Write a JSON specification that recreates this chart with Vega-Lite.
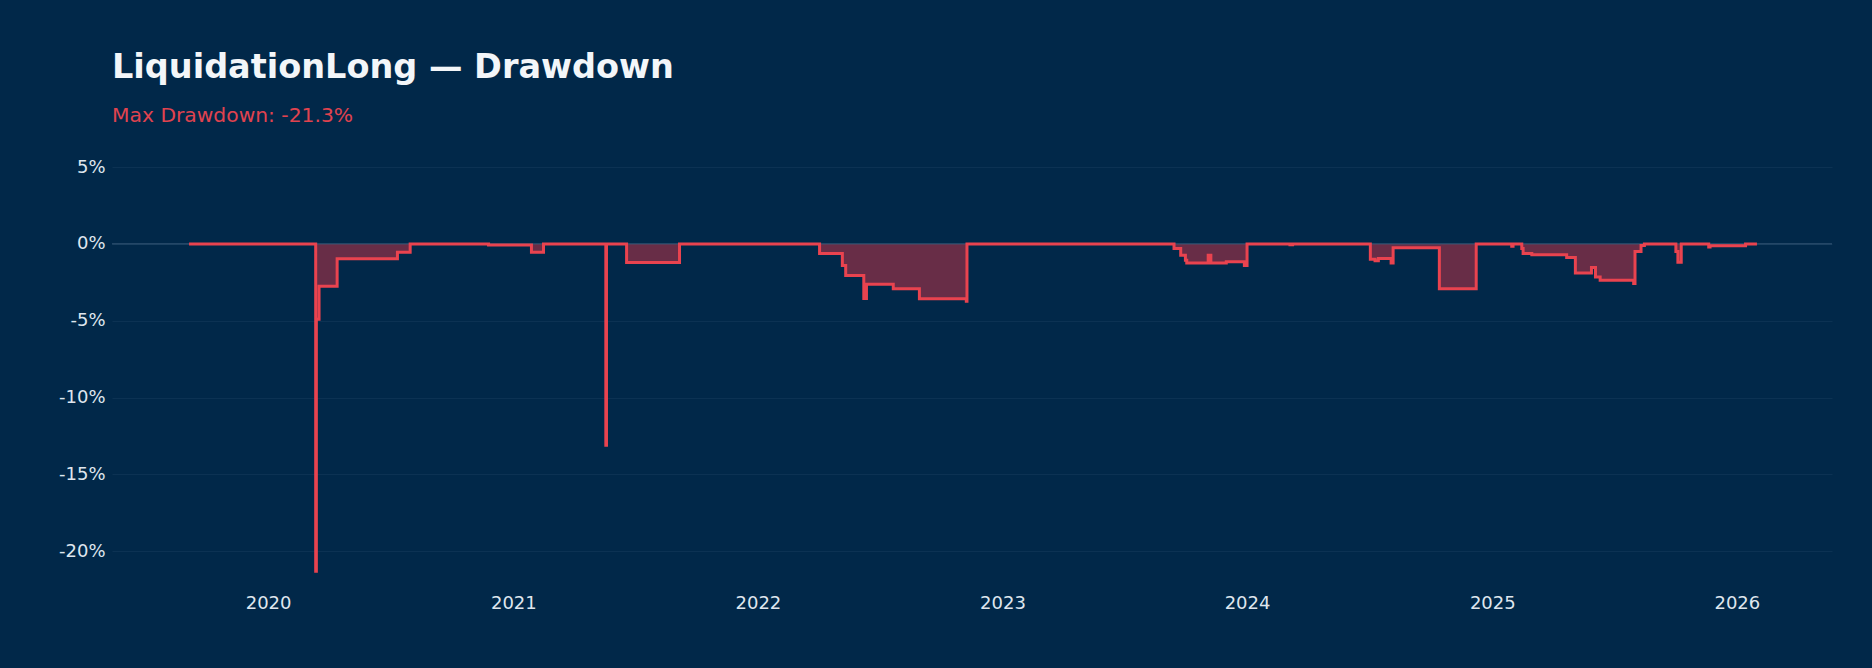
{
  "$schema": "https://vega.github.io/schema/vega-lite/v6.json",
  "width": 1720,
  "height": 441,
  "autosize": {"type": "none"},
  "padding": {"left": 112, "top": 144, "right": 40, "bottom": 83},
  "background": "#012849",
  "title": {
    "text": "LiquidationLong — Drawdown",
    "subtitle": "Max Drawdown: -21.3%",
    "anchor": "start",
    "frame": "group",
    "font": "DejaVu Sans",
    "fontSize": 33.5,
    "fontWeight": "bold",
    "color": "#f3f6f9",
    "subtitleFont": "DejaVu Sans",
    "subtitleFontSize": 20.3,
    "subtitleColor": "#e0434f",
    "subtitlePadding": 20,
    "offset": 17
  },
  "data": {
    "values": [
      {"date": "2019-09-05", "drawdown": 0},
      {"date": "2020-03-12", "drawdown": -21.3},
      {"date": "2020-03-13", "drawdown": -4.9},
      {"date": "2020-03-17", "drawdown": -2.75},
      {"date": "2020-04-13", "drawdown": -0.96},
      {"date": "2020-07-12", "drawdown": -0.55},
      {"date": "2020-07-31", "drawdown": 0},
      {"date": "2020-11-25", "drawdown": -0.08},
      {"date": "2021-01-28", "drawdown": -0.55},
      {"date": "2021-02-15", "drawdown": 0},
      {"date": "2021-05-19", "drawdown": -13.1},
      {"date": "2021-05-20", "drawdown": 0},
      {"date": "2021-06-19", "drawdown": -1.22},
      {"date": "2021-09-06", "drawdown": 0},
      {"date": "2022-04-03", "drawdown": -0.63},
      {"date": "2022-05-07", "drawdown": -1.4},
      {"date": "2022-05-12", "drawdown": -2.05},
      {"date": "2022-06-08", "drawdown": -3.55},
      {"date": "2022-06-12", "drawdown": -2.63},
      {"date": "2022-07-22", "drawdown": -2.92},
      {"date": "2022-08-30", "drawdown": -3.57},
      {"date": "2022-11-08", "drawdown": -3.73},
      {"date": "2022-11-09", "drawdown": 0},
      {"date": "2023-09-14", "drawdown": -0.3},
      {"date": "2023-09-24", "drawdown": -0.74},
      {"date": "2023-10-01", "drawdown": -1.07},
      {"date": "2023-10-03", "drawdown": -1.24},
      {"date": "2023-11-04", "drawdown": -0.74},
      {"date": "2023-11-08", "drawdown": -1.24},
      {"date": "2023-12-01", "drawdown": -1.17},
      {"date": "2023-12-28", "drawdown": -1.4},
      {"date": "2024-01-01", "drawdown": 0},
      {"date": "2024-03-05", "drawdown": -0.06},
      {"date": "2024-03-09", "drawdown": 0},
      {"date": "2024-07-03", "drawdown": -1.0},
      {"date": "2024-07-10", "drawdown": -1.1},
      {"date": "2024-07-15", "drawdown": -0.95},
      {"date": "2024-08-03", "drawdown": -1.25},
      {"date": "2024-08-06", "drawdown": -0.25},
      {"date": "2024-10-14", "drawdown": -2.92},
      {"date": "2024-12-08", "drawdown": 0},
      {"date": "2025-01-30", "drawdown": -0.15},
      {"date": "2025-02-01", "drawdown": 0},
      {"date": "2025-02-14", "drawdown": -0.3},
      {"date": "2025-02-16", "drawdown": -0.63},
      {"date": "2025-03-01", "drawdown": -0.7},
      {"date": "2025-04-22", "drawdown": -0.89},
      {"date": "2025-05-05", "drawdown": -1.89},
      {"date": "2025-05-29", "drawdown": -1.54},
      {"date": "2025-06-04", "drawdown": -2.15},
      {"date": "2025-06-11", "drawdown": -2.37},
      {"date": "2025-07-31", "drawdown": -2.58},
      {"date": "2025-08-02", "drawdown": -0.5},
      {"date": "2025-08-11", "drawdown": -0.1},
      {"date": "2025-08-16", "drawdown": 0},
      {"date": "2025-10-02", "drawdown": -0.5},
      {"date": "2025-10-05", "drawdown": -1.2},
      {"date": "2025-10-10", "drawdown": 0},
      {"date": "2025-11-20", "drawdown": -0.2},
      {"date": "2025-11-22", "drawdown": -0.12},
      {"date": "2026-01-14", "drawdown": 0},
      {"date": "2026-01-31", "drawdown": 0}
    ]
  },
  "layer": [
    {
      "mark": {"type": "area", "interpolate": "step-after", "color": "#682d47"},
      "encoding": {
        "x": {
          "field": "date",
          "type": "temporal",
          "scale": {
            "domain": [
              {"year": 2019, "month": "May", "date": 13},
              {"year": 2026, "month": "May", "date": 23}
            ]
          },
          "axis": {
            "title": null,
            "format": "%Y",
            "tickCount": {"interval": "year", "step": 1},
            "grid": false,
            "ticks": false,
            "domain": false,
            "labelFlush": false,
            "labelPadding": 9
          }
        },
        "y": {
          "field": "drawdown",
          "type": "quantitative",
          "scale": {"domain": [-22.2, 6.5], "nice": false, "zero": false},
          "axis": {
            "title": null,
            "values": [-20, -15, -10, -5, 0, 5],
            "labelExpr": "datum.value + '%'",
            "grid": true,
            "gridColor": "#0c3253",
            "ticks": false,
            "domain": false,
            "labelPadding": 7
          }
        },
        "y2": {"datum": 0}
      }
    },
    {
      "data": {"values": [{}]},
      "mark": {"type": "rule", "color": "#3a5b7b", "strokeWidth": 1},
      "encoding": {"y": {"datum": 0}}
    },
    {
      "mark": {"type": "line", "interpolate": "step-after", "color": "#e9434f", "strokeWidth": 3},
      "encoding": {
        "x": {"field": "date", "type": "temporal"},
        "y": {"field": "drawdown", "type": "quantitative"}
      }
    }
  ],
  "config": {
    "view": {"stroke": null},
    "axis": {
      "labelFont": "DejaVu Sans",
      "labelFontSize": 18,
      "labelColor": "#dfe6ee"
    }
  }
}
